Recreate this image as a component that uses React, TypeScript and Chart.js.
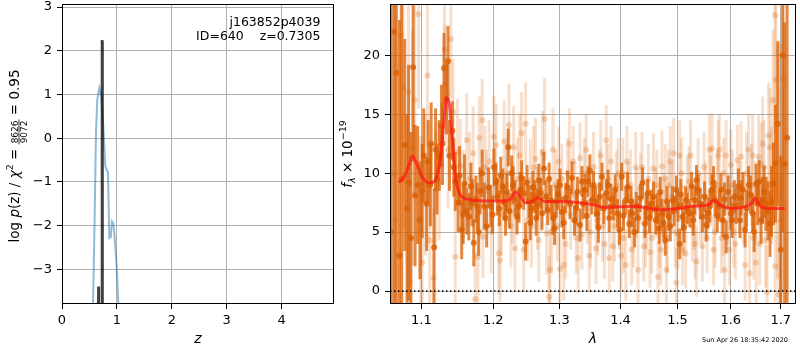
import React, { useEffect, useRef } from 'react';
import { Chart, registerables } from 'chart.js';
Chart.register(...registerables);

const FONT = "'DejaVu Sans', 'Liberation Sans', sans-serif";

// ---------- left panel: log p(z) ----------
const zTicks = [0, 1, 2, 3, 4];
const logpTicks = [-3, -2, -1, 0, 1, 2, 3];
const zBlue = [0.55, 0.575, 0.595, 0.619, 0.643, 0.68, 0.716, 0.753, 0.789, 0.838, 0.862, 0.887, 0.911, 0.935, 0.953, 0.996, 1.026, 1.05];
const logpBlue = [-4.6, -3.2, -1.78, 0.13, 0.89, 1.15, 0.96, 0.27, -0.64, -0.79, -2.28, -2.26, -1.9, -1.95, -2.17, -2.93, -3.77, -4.6];
const zBlack = [0.655, 0.663, 0.671, 0.722, 0.728, 0.733, 0.739];
const logpBlack = [-4.6, -3.39, -4.6, -4.6, 2.22, 2.22, -4.6];

// ---------- right panel: spectrum ----------
const lamTicks = [1.1, 1.2, 1.3, 1.4, 1.5, 1.6, 1.7];
const fluxTicks = [0, 5, 10, 15, 20];

const darkLam = [1.060, 1.064, 1.067, 1.071, 1.074, 1.078, 1.081, 1.083, 1.086, 1.089, 1.0915, 1.095, 1.098, 1.101, 1.103, 1.107, 1.109, 1.113, 1.117, 1.121, 1.124, 1.127, 1.1305, 1.134, 1.138, 1.142, 1.146, 1.150, 1.155, 1.159, 1.162, 1.165, 1.168, 1.172, 1.175, 1.177, 1.181, 1.184, 1.187, 1.1905, 1.1964, 1.201, 1.204, 1.209, 1.214, 1.218, 1.222, 1.227, 1.232, 1.238, 1.242, 1.245, 1.248, 1.253, 1.257, 1.262, 1.266, 1.271, 1.276, 1.282, 1.287, 1.2925, 1.298, 1.304, 1.310, 1.317, 1.324, 1.329, 1.336, 1.341, 1.346, 1.352, 1.355, 1.361, 1.365, 1.369, 1.376, 1.381, 1.388, 1.395, 1.402, 1.409, 1.415, 1.420, 1.427, 1.434, 1.442, 1.447, 1.453, 1.461, 1.467, 1.472, 1.478, 1.484, 1.491, 1.498, 1.504, 1.509, 1.515, 1.523, 1.526, 1.532, 1.538, 1.546, 1.5566, 1.564, 1.570, 1.578, 1.585, 1.591, 1.600, 1.607, 1.615, 1.620, 1.628, 1.635, 1.643, 1.650, 1.656, 1.663, 1.670, 1.678, 1.685, 1.689, 1.694, 1.700, 1.704, 1.708, 1.713,
  1.112, 1.119, 1.1285, 1.136, 1.144, 1.152, 1.157, 1.170, 1.179, 1.193, 1.199, 1.206, 1.211, 1.216, 1.220, 1.224, 1.229, 1.235, 1.240, 1.250, 1.255, 1.259, 1.264, 1.268, 1.273, 1.279, 1.284, 1.290, 1.295, 1.301, 1.307, 1.313, 1.320, 1.327, 1.333, 1.338, 1.344, 1.349, 1.358, 1.363, 1.372, 1.379, 1.384, 1.391, 1.398, 1.405, 1.412, 1.418, 1.424, 1.430, 1.438, 1.444, 1.450, 1.457, 1.464, 1.469, 1.475, 1.481, 1.487, 1.494, 1.501, 1.506, 1.512, 1.518, 1.529, 1.535, 1.542, 1.550, 1.553, 1.560, 1.567, 1.574, 1.581, 1.588, 1.595, 1.603, 1.611, 1.618, 1.624, 1.631, 1.639, 1.646, 1.653, 1.660, 1.666, 1.674, 1.681];
const darkFlux = [5.0, 22.0, 18.5, 3.0, 9.5, 12.4, 7.0, 9.2, 4.5, 19.0, 8.1, 9.0, 6.0, 8.5, 11.5, 7.4, 11.0, 12.5, 3.7, 9.5, 11.5, 14.0, 18.9, 16.3, 11.5, 13.6, 9.3, 7.5, 5.2, 9.1, 6.8, 6.3, 8.9, 4.1, 7.8, 7.2, 8.5, 10.0, 7.2, 5.5, 7.2, 10.5, 9.3, 7.0, 8.9, 6.2, 12.2, 10.0, 7.9, 7.2, 9.6, 8.3, 4.2, 7.6, 7.0, 8.0, 7.4, 8.3, 10.4, 6.9, 7.7, 5.3, 8.2, 6.7, 7.9, 7.4, 6.0, 8.4, 9.3, 8.6, 9.3, 7.7, 9.0, 6.6, 8.0, 9.7, 8.3, 6.2, 7.2, 6.6, 9.7, 7.7, 5.7, 6.6, 7.2, 7.9, 5.7, 8.3, 7.4, 6.0, 5.3, 6.6, 4.3, 6.3, 7.7, 8.6, 4.0, 6.3, 7.7, 6.6, 8.9, 7.7, 8.6, 6.3, 6.6, 8.6, 7.7, 7.2, 6.0, 4.6, 6.6, 8.0, 8.9, 7.9, 5.2, 9.0, 6.6, 9.1, 9.3, 7.7, 7.4, 5.7, 9.1, 10.8, 14.2, 3.5, 20.0, 10.8, 13.0,
  9.0, 12.0, 12.5, 19.5, 10.5, 9.8, 6.5, 7.5, 5.0, 8.8, 6.5, 8.0, 9.8, 7.5, 8.4, 6.8, 9.0, 6.3, 8.6, 9.2, 5.8, 8.8, 6.2, 9.4, 6.6, 8.0, 9.5, 6.2, 7.6, 9.0, 5.8, 8.8, 9.6, 7.0, 5.6, 7.4, 6.4, 10.2, 7.6, 5.4, 7.0, 9.0, 7.8, 8.6, 5.2, 6.4, 8.8, 7.6, 5.0, 6.2, 9.2, 7.0, 6.2, 8.0, 7.0, 8.4, 5.8, 7.6, 5.5, 6.8, 7.2, 8.2, 5.4, 7.0, 6.0, 9.4, 7.4, 8.0, 5.6, 7.2, 9.2, 6.4, 8.6, 7.8, 8.4, 6.0, 7.2, 6.0, 8.6, 7.0, 8.2, 5.0, 7.4, 6.0, 8.4, 6.8, 7.6];
const darkErr = [26, 30, 30, 20, 15, 9, 8, 10, 9, 8, 6, 5, 5, 4, 4, 4, 3.5, 3.5, 5, 3, 3, 3.5, 3, 3, 3, 2.5, 2.5, 2.5, 2.5, 2.5, 2, 2, 2, 2, 2, 2, 2, 2, 2, 1.8, 1.8, 1.6, 1.6, 1.5, 1.5, 1.5, 1.6, 1.5, 1.5, 1.4, 1.5, 1.4, 1.6, 1.4, 1.4, 1.4, 1.3, 1.3, 1.4, 1.3, 1.3, 1.4, 1.3, 1.3, 1.3, 1.3, 1.3, 1.3, 1.3, 1.3, 1.3, 1.2, 1.2, 1.2, 1.2, 1.2, 1.2, 1.2, 1.2, 1.2, 1.2, 1.2, 1.2, 1.2, 1.2, 1.2, 1.2, 1.2, 1.2, 1.2, 1.3, 1.2, 1.3, 1.2, 1.2, 1.2, 1.3, 1.2, 1.2, 1.2, 1.2, 1.2, 1.3, 1.3, 1.3, 1.3, 1.3, 1.3, 1.4, 1.4, 1.4, 1.4, 1.5, 1.5, 1.5, 1.6, 1.6, 1.7, 1.8, 2.0, 2.3, 2.8, 3.5, 5, 7, 8, 15, 12, 14,
  3.5, 3.5, 3.5, 3, 2.5, 2.5, 2.5, 2, 2, 1.7, 1.6, 1.6, 1.6, 1.5, 1.6, 1.5, 1.6, 1.5, 1.5, 1.5, 1.5, 1.4, 1.5, 1.4, 1.4, 1.4, 1.4, 1.4, 1.4, 1.4, 1.4, 1.4, 1.4, 1.4, 1.4, 1.3, 1.3, 1.4, 1.3, 1.3, 1.3, 1.3, 1.3, 1.3, 1.3, 1.3, 1.3, 1.3, 1.3, 1.3, 1.3, 1.3, 1.3, 1.3, 1.3, 1.3, 1.3, 1.3, 1.3, 1.3, 1.3, 1.3, 1.3, 1.3, 1.3, 1.3, 1.3, 1.3, 1.4, 1.4, 1.4, 1.4, 1.4, 1.4, 1.4, 1.5, 1.5, 1.5, 1.5, 1.6, 1.6, 1.7, 1.8, 2.0, 2.2, 2.5, 3.0];

const lightLam = [1.062, 1.066, 1.073, 1.076, 1.083, 1.085, 1.088, 1.091, 1.096, 1.099, 1.101, 1.105, 1.108, 1.111, 1.116, 1.119, 1.124, 1.131, 1.132, 1.136, 1.140, 1.143, 1.146, 1.149, 1.153, 1.157, 1.162, 1.166, 1.171, 1.174, 1.178, 1.180, 1.184, 1.185, 1.190, 1.194, 1.197, 1.201, 1.204, 1.208, 1.210, 1.216, 1.219, 1.223, 1.226, 1.230, 1.232, 1.236, 1.242, 1.248, 1.251, 1.255, 1.257, 1.263, 1.268, 1.272, 1.277, 1.280, 1.284, 1.285, 1.290, 1.294, 1.297, 1.301, 1.307, 1.313, 1.318, 1.322, 1.327, 1.333, 1.336, 1.340, 1.345, 1.350, 1.359, 1.365, 1.370, 1.376, 1.381, 1.387, 1.393, 1.398, 1.404, 1.405, 1.409, 1.413, 1.417, 1.422, 1.426, 1.430, 1.434, 1.440, 1.445, 1.451, 1.457, 1.461, 1.465, 1.468, 1.472, 1.476, 1.480, 1.484, 1.487, 1.493, 1.498, 1.501, 1.507, 1.511, 1.515, 1.521, 1.527, 1.532, 1.538, 1.542, 1.546, 1.552, 1.559, 1.564, 1.570, 1.574, 1.578, 1.582, 1.586, 1.588, 1.594, 1.600, 1.606, 1.613, 1.620, 1.624, 1.628, 1.635, 1.637, 1.641, 1.645, 1.650, 1.655, 1.660, 1.663, 1.669, 1.672, 1.675, 1.678, 1.684, 1.688, 1.6885, 1.690, 1.696, 1.700, 1.705,
  1.188, 1.212, 1.221, 1.228, 1.239, 1.245, 1.260, 1.266, 1.274, 1.288, 1.299, 1.304, 1.310, 1.316, 1.325, 1.330, 1.343, 1.348, 1.355, 1.362, 1.367, 1.373, 1.379, 1.384, 1.390, 1.396, 1.401, 1.411, 1.419, 1.428, 1.437, 1.443, 1.448, 1.454, 1.463, 1.470, 1.478, 1.482, 1.490, 1.496, 1.504, 1.509, 1.518, 1.524, 1.530, 1.535, 1.549, 1.555, 1.561, 1.567, 1.576, 1.585, 1.591, 1.597, 1.603, 1.609, 1.617, 1.631, 1.643, 1.648, 1.657, 1.666, 1.681, 1.693];
const lightFlux = [10.0, 6.0, 21.7, 17.3, 16.9, 0.8, 12.2, 16.2, 23.5, 5.2, 2.4, 9.0, 18.3, 4.3, 1.1, 8.6, 9.3, 20.5, 17.6, 12.0, 21.4, 15.2, 2.9, 11.8, 10.6, 8.0, 12.8, 9.5, 11.7, -0.7, 2.9, 13.0, 14.5, 4.6, 8.5, 11.0, 5.0, 13.1, 12.4, 3.2, 2.6, 12.7, 9.0, 14.1, 5.5, 12.2, 3.6, 9.5, 13.4, 14.2, 6.0, 9.4, 5.5, 11.2, 4.3, 8.5, 14.6, 4.9, -0.5, 1.8, 12.0, 9.0, 5.5, 1.9, 2.2, 10.0, 6.5, 11.0, 4.5, 11.3, 4.8, 10.0, 7.0, 5.0, 3.6, 9.0, 5.5, 12.8, 2.8, 3.8, 8.9, 6.5, 10.0, 4.5, 2.2, 8.0, 9.0, 5.0, 10.5, 1.8, 8.7, 3.8, 6.5, 3.3, 10.4, 7.5, 1.2, 5.0, 10.6, 7.0, 1.8, 9.0, 11.0, 11.7, 0.7, 4.8, 10.0, 6.0, 3.2, 9.3, 5.5, 4.0, 10.0, 7.0, 3.8, 8.0, 12.0, 12.1, 5.0, 9.0, 12.0, 4.5, 10.0, 1.8, 7.0, 10.7, 5.0, 11.1, 11.4, 7.0, 2.2, 12.0, 1.5, 9.0, 4.5, 2.4, 11.4, 10.8, 12.5, 4.3, -0.1, 13.2, 12.2, 16.2, 23.4, 2.1, 17.9, -0.3, 6.0, 18.0,
  10.5, 6.5, 10.0, 7.5, 11.5, 3.5, 10.5, 7.0, 11.8, 5.0, 11.0, 9.5, 4.0, 12.5, 8.0, 2.8, 12.0, 3.0, 10.5, 6.0, 11.5, 4.0, 9.5, 11.0, 5.5, 10.0, 3.0, 11.0, 3.5, 7.5, 10.5, 5.0, 9.5, 4.5, 9.0, 3.5, 9.5, 4.5, 8.0, 5.0, 11.5, 3.5, 8.5, 11.5, 6.5, 2.5, 10.5, 4.5, 8.5, 3.5, 11.5, 6.0, 11.5, 3.5, 9.0, 4.0, 8.0, 10.0, 11.5, 7.5, 4.0, 10.5, 9.0, 11.0];
const lightErr = [25, 25, 12, 12, 10, 10, 10, 8, 8, 8, 7, 6, 6, 6, 6, 5, 5, 5, 5, 5, 5, 4.5, 4.5, 4.5, 4, 4, 4, 4, 4, 4, 4, 3.5, 3.5, 3.5, 3.5, 3.5, 3.5, 3.5, 3.5, 3.5, 3.5, 3.5, 3.5, 3.5, 3.5, 3.5, 3.5, 3.5, 3.5, 3.5, 3.5, 3.5, 3.5, 3.5, 3.5, 3.5, 3.5, 3.5, 3.5, 3.5, 3.5, 3, 3, 3, 3, 3, 3, 3, 3, 3, 3, 3, 3, 3, 3, 3, 3, 3, 3, 3, 3, 3, 3, 3, 3, 3, 3, 3, 3, 3, 3, 3, 3, 3, 3, 3, 3, 3, 3, 3, 3, 3, 3, 3, 3, 3, 3, 3, 3, 3, 3, 3, 3, 3, 3, 3, 3, 3, 3, 3, 3, 3, 3, 3, 3, 3, 3, 3, 3, 3, 3, 3, 3.5, 3.5, 3.5, 3.5, 3.5, 3.5, 4, 4, 4, 4.5, 5, 6, 10, 8, 10, 10, 15, 18,
  3.5, 3.5, 3.5, 3.5, 3.5, 3.5, 3.5, 3.5, 3.5, 3.5, 3, 3, 3, 3, 3, 3, 3, 3, 3, 3, 3, 3, 3, 3, 3, 3, 3, 3, 3, 3, 3, 3, 3, 3, 3, 3, 3, 3, 3, 3, 3, 3, 3, 3, 3, 3, 3, 3, 3, 3, 3, 3, 3, 3, 3, 3, 3, 3.5, 3.5, 3.5, 3.5, 4, 5, 10];

const modelLam = [1.0705, 1.078, 1.084, 1.088, 1.093, 1.100, 1.106, 1.111, 1.117, 1.122, 1.126, 1.130, 1.1343, 1.138, 1.142, 1.147, 1.155, 1.163, 1.171, 1.190, 1.213, 1.225, 1.233, 1.240, 1.248, 1.258, 1.2667, 1.277, 1.309, 1.357, 1.373, 1.424, 1.470, 1.500, 1.530, 1.556, 1.567, 1.580, 1.600, 1.631, 1.642, 1.648, 1.655, 1.662, 1.680, 1.708];
const modelFlux = [9.2, 9.8, 10.8, 11.46, 10.9, 9.8, 9.3, 9.2, 9.3, 10.0, 11.5, 14.2, 16.4, 15.8, 12.8, 9.4, 8.0, 7.8, 7.7, 7.65, 7.65, 7.8, 8.4, 8.0, 7.5, 7.6, 7.9, 7.6, 7.6, 7.3, 7.1, 7.2, 6.9, 7.0, 7.2, 7.3, 7.7, 7.3, 7.0, 7.2, 7.5, 7.9, 7.4, 7.1, 7.0, 7.0];

const fmt = (v: number) => (v < 0 ? '\u2212' + Math.abs(v) : String(v));

type Piece = { t?: string; size: number; italic?: boolean; dy: number; frac?: [string, string] };

function drawRotated(ctx: CanvasRenderingContext2D, cx: number, cy: number, baseline: number, pieces: Piece[]) {
  ctx.save();
  ctx.translate(cx, cy);
  ctx.rotate(-Math.PI / 2);
  ctx.fillStyle = '#000';
  ctx.strokeStyle = '#000';
  ctx.textBaseline = 'alphabetic';
  ctx.textAlign = 'left';
  const setFont = (p: Piece) => { ctx.font = `${p.italic ? 'italic ' : ''}${p.size}px ${FONT}`; };
  const widths = pieces.map((p) => {
    setFont(p);
    if (p.frac) return Math.max(ctx.measureText(p.frac[0]).width, ctx.measureText(p.frac[1]).width) + 2;
    return ctx.measureText(p.t || '').width;
  });
  const total = widths.reduce((a, b) => a + b, 0);
  let x = -total / 2;
  pieces.forEach((p, i) => {
    setFont(p);
    if (p.frac) {
      const w = widths[i];
      const bar = baseline + p.dy;
      const nw = ctx.measureText(p.frac[0]).width;
      const dw = ctx.measureText(p.frac[1]).width;
      ctx.fillText(p.frac[0], x + (w - nw) / 2, bar - 1.3);
      ctx.fillText(p.frac[1], x + (w - dw) / 2, bar + 1.3 + p.size * 0.73);
      ctx.lineWidth = 0.8;
      ctx.beginPath();
      ctx.moveTo(x, bar);
      ctx.lineTo(x + w, bar);
      ctx.stroke();
    } else {
      ctx.fillText(p.t || '', x, baseline + p.dy);
    }
    x += widths[i];
  });
  ctx.restore();
}

const framePlugin = {
  id: 'frame',
  afterDatasetsDraw(chart: any) {
    const { ctx, chartArea } = chart;
    ctx.save();
    ctx.strokeStyle = '#000';
    ctx.lineWidth = 1;
    ctx.strokeRect(Math.round(chartArea.left) + 0.5, Math.round(chartArea.top) + 0.5, Math.round(chartArea.width) - 1, Math.round(chartArea.height) - 1);
    ctx.restore();
  },
};

const leftTextPlugin = {
  id: 'leftText',
  afterDraw(chart: any) {
    const { ctx, chartArea } = chart;
    drawRotated(ctx, 12.5, 156, 6, [
      { t: 'log ', size: 13.5, dy: 0 },
      { t: 'p', size: 13.5, italic: true, dy: 0 },
      { t: '(z) / ', size: 13.5, dy: 0 },
      { t: '\u03c7', size: 13.5, italic: true, dy: 0 },
      { t: '2', size: 9.5, dy: -5.5 },
      { t: ' = ', size: 13.5, dy: 0 },
      { size: 9, dy: 0.5, frac: ['8626', '9072'] },
      { t: ' = 0.95', size: 13.5, dy: 0 },
    ]);
    ctx.save();
    ctx.fillStyle = '#000';
    ctx.font = `12.5px ${FONT}`;
    ctx.textAlign = 'right';
    ctx.textBaseline = 'alphabetic';
    const xr = chartArea.left + 0.95 * chartArea.width;
    ctx.fillText('j163852p4039', xr, 26);
    ctx.fillText('ID=640    z=0.7305', xr, 39.5);
    ctx.restore();
  },
};

const errorBarPlugin = {
  id: 'errorBars',
  beforeDatasetDraw(chart: any, args: any) {
    const ds = chart.data.datasets[args.index];
    if (!ds.errors) return;
    const { ctx, chartArea, scales } = chart;
    ctx.save();
    ctx.beginPath();
    ctx.rect(chartArea.left, chartArea.top, chartArea.width, chartArea.height);
    ctx.clip();
    ctx.strokeStyle = ds.errColor;
    ctx.lineWidth = 3;
    ds.data.forEach((p: any, i: number) => {
      const x = scales.x.getPixelForValue(p.x);
      const y1 = scales.y.getPixelForValue(p.y - ds.errors[i]);
      const y2 = scales.y.getPixelForValue(p.y + ds.errors[i]);
      ctx.beginPath();
      ctx.moveTo(x, y1);
      ctx.lineTo(x, y2);
      ctx.stroke();
    });
    ctx.restore();
  },
};

const rightTextPlugin = {
  id: 'rightText',
  afterDatasetsDraw(chart: any) {
    const { ctx, chartArea, scales } = chart;
    const y0 = scales.y.getPixelForValue(0);
    ctx.save();
    ctx.strokeStyle = '#000';
    ctx.lineWidth = 1.5;
    ctx.setLineDash([1.5, 2.5]);
    ctx.beginPath();
    ctx.moveTo(chartArea.left, y0);
    ctx.lineTo(chartArea.right, y0);
    ctx.stroke();
    ctx.restore();
  },
  afterDraw(chart: any) {
    const { ctx } = chart;
    drawRotated(ctx, 12, 154, 4.5, [
      { t: 'f', size: 13.5, italic: true, dy: 0 },
      { t: '\u03bb', size: 9.5, italic: true, dy: 3 },
      { t: ' \u00d7 10', size: 13.5, dy: 0 },
      { t: '\u221219', size: 9.5, dy: -5.5 },
    ]);
    ctx.save();
    ctx.fillStyle = '#000';
    ctx.font = `6.5px ${FONT}`;
    ctx.textAlign = 'right';
    ctx.textBaseline = 'middle';
    ctx.fillText('Sun Apr 26 18:35:42 2020', 453, 340);
    ctx.restore();
  },
};

const tickFont = { size: 13, family: FONT };
const gridOpts = { color: '#b0b0b0', lineWidth: 1, tickLength: 5, tickColor: '#000', tickWidth: 1 };

function LeftChart() {
  const ref = useRef<HTMLCanvasElement>(null);
  useEffect(() => {
    const chart = new Chart(ref.current as HTMLCanvasElement, {
      type: 'scatter',
      data: {
        datasets: [
          {
            data: zBlack.map((x, i) => ({ x, y: logpBlack[i] })),
            showLine: true, borderColor: 'rgba(0,0,0,0.75)', borderWidth: 2.5, pointRadius: 0, clip: 0, order: 0,
          } as any,
          {
            data: zBlue.map((x, i) => ({ x, y: logpBlue[i] })),
            showLine: true, borderColor: 'rgba(31,119,180,0.5)', borderWidth: 2, pointRadius: 0, clip: 0, order: 1,
          } as any,
        ],
      },
      options: {
        animation: false, responsive: false, devicePixelRatio: 1,
        events: [],
        layout: { padding: { top: 4, right: 6, left: 0, bottom: 0 } },
        plugins: { legend: { display: false }, tooltip: { enabled: false } },
        scales: {
          x: {
            type: 'linear', min: 0, max: 4.955, bounds: 'data',
            afterBuildTicks: (s: any) => { s.ticks = zTicks.map((v) => ({ value: v })); },
            afterFit: (s: any) => { s.height = 46; s.paddingLeft = 0; s.paddingRight = 0; },
            ticks: { font: tickFont, color: '#000', padding: 4, maxRotation: 0, autoSkip: false, callback: (v: any) => fmt(Number(v)) },
            grid: gridOpts, border: { display: false },
            title: { display: true, text: 'z', color: '#000', font: { size: 14, style: 'italic', family: FONT }, padding: { top: 0, bottom: 2 } },
          },
          y: {
            type: 'linear', min: -3.79, max: 3.07, bounds: 'data',
            afterBuildTicks: (s: any) => { s.ticks = logpTicks.map((v) => ({ value: v })); },
            afterFit: (s: any) => { s.width = 62; s.paddingTop = 0; s.paddingBottom = 0; },
            ticks: { font: tickFont, color: '#000', padding: 5, autoSkip: false, callback: (v: any) => fmt(Number(v)) },
            grid: gridOpts, border: { display: false },
          },
        },
      } as any,
      plugins: [framePlugin, leftTextPlugin],
    });
    return () => chart.destroy();
  }, []);
  return <canvas ref={ref} width={340} height={350} style={{ position: 'absolute', left: 0, top: 0, width: 340, height: 350 }} />;
}

function RightChart() {
  const ref = useRef<HTMLCanvasElement>(null);
  useEffect(() => {
    const chart = new Chart(ref.current as HTMLCanvasElement, {
      type: 'scatter',
      data: {
        datasets: [
          {
            data: modelLam.map((x, i) => ({ x, y: modelFlux[i] })),
            showLine: true, borderColor: 'rgba(255,20,20,0.7)', borderWidth: 3, pointRadius: 0,
            cubicInterpolationMode: 'monotone', clip: 0, order: 0,
          } as any,
          {
            data: darkLam.map((x, i) => ({ x, y: darkFlux[i] })),
            errors: darkErr, errColor: 'rgba(217,95,2,0.75)',
            pointRadius: 3, pointBackgroundColor: 'rgba(217,95,2,0.8)', pointBorderWidth: 0, clip: 0, order: 1,
          } as any,
          {
            data: lightLam.map((x, i) => ({ x, y: lightFlux[i] })),
            errors: lightErr, errColor: 'rgba(217,95,2,0.2)',
            pointRadius: 3, pointBackgroundColor: 'rgba(217,95,2,0.25)', pointBorderWidth: 0, clip: 0, order: 2,
          } as any,
        ],
      },
      options: {
        animation: false, responsive: false, devicePixelRatio: 1,
        events: [],
        layout: { padding: { top: 4, right: 1, left: 0, bottom: 0 } },
        plugins: { legend: { display: false }, tooltip: { enabled: false } },
        scales: {
          x: {
            type: 'logarithmic', min: 1.0589, max: 1.7316, bounds: 'data',
            afterBuildTicks: (s: any) => { s.ticks = lamTicks.map((v) => ({ value: v })); },
            afterFit: (s: any) => { s.height = 46; s.paddingLeft = 0; s.paddingRight = 0; },
            ticks: { font: tickFont, color: '#000', padding: 4, maxRotation: 0, autoSkip: false, callback: (v: any) => Number(v).toFixed(1) },
            grid: gridOpts, border: { display: false },
            title: { display: true, text: '\u03bb', color: '#000', font: { size: 14, style: 'italic', family: FONT }, padding: { top: 0, bottom: 2 } },
          },
          y: {
            type: 'linear', min: -1.1, max: 24.36, bounds: 'data',
            afterBuildTicks: (s: any) => { s.ticks = fluxTicks.map((v) => ({ value: v })); },
            afterFit: (s: any) => { s.width = 55; s.paddingTop = 0; s.paddingBottom = 0; },
            ticks: { font: tickFont, color: '#000', padding: 5, autoSkip: false, callback: (v: any) => fmt(Number(v)) },
            grid: gridOpts, border: { display: false },
          },
        },
      } as any,
      plugins: [errorBarPlugin, framePlugin, rightTextPlugin],
    });
    return () => chart.destroy();
  }, []);
  return <canvas ref={ref} width={465} height={350} style={{ position: 'absolute', left: 335, top: 0, width: 465, height: 350 }} />;
}

export default function App() {
  return (
    <div style={{ position: 'fixed', left: 0, top: 0, width: 800, height: 350, background: '#fff', overflow: 'hidden' }}>
      <LeftChart />
      <RightChart />
    </div>
  );
}
